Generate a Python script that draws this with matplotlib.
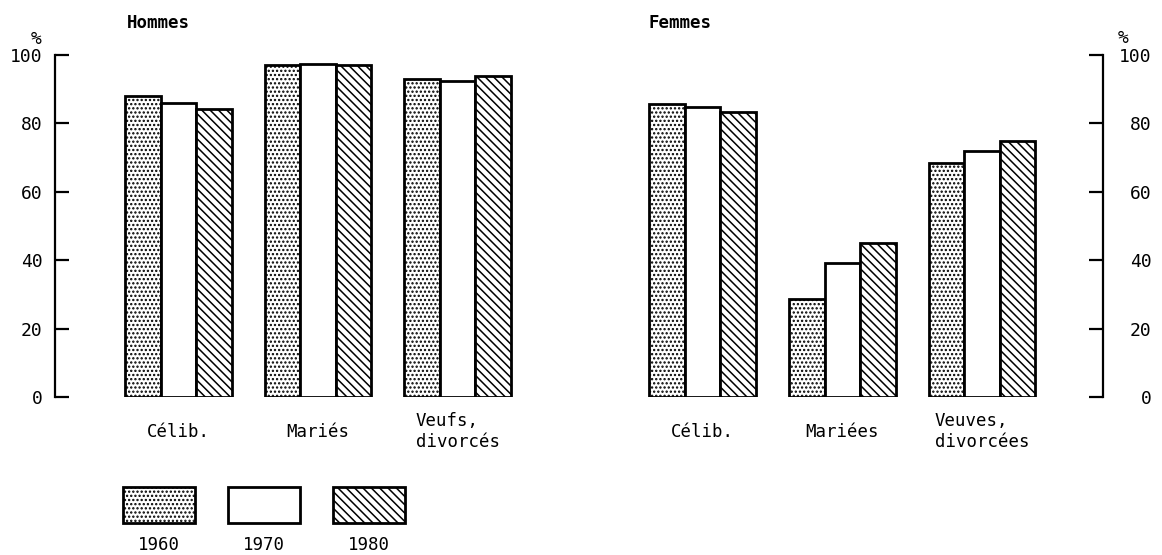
import numpy as np
import matplotlib
matplotlib.use("Agg")
import matplotlib.pyplot as plt

plt.rcParams['font.family'] = ['DejaVu Sans Mono', 'DejaVu Sans']
plt.rcParams['hatch.linewidth'] = 1.1

years = ['1960', '1970', '1980']
hatches = ['....', '', '\\\\\\\\']

hommes_cat = ['Célib.', 'Mariés', 'Veufs,\ndivorcés']
hommes_1960 = [88, 97, 93]
hommes_1970 = [86, 97.5, 92.3]
hommes_1980 = [84.2, 97, 94]

femmes_cat = ['Célib.', 'Mariées', 'Veuves,\ndivorcées']
femmes_1960 = [85.7, 28.7, 68.4]
femmes_1970 = [84.8, 39.2, 71.9]
femmes_1980 = [83.3, 45.0, 74.9]

W, H = 1162, 555
fig = plt.figure(figsize=(W / 100, H / 100), dpi=100)

bot = (H - 397) / H
top = (H - 55) / H

# bar groups
def draw_group(ax, series, cats):
    x = np.arange(len(cats))
    bw = 0.254
    for k, vals in enumerate(series):
        ax.bar(x + (k - 1) * bw, vals, bw, facecolor='white', edgecolor='black',
               linewidth=2.0, hatch=hatches[k], zorder=3)
    ax.set_ylim(0, 100)
    ax.set_yticks([0, 20, 40, 60, 80, 100])
    ax.set_xticks(x, cats)
    ax.tick_params(axis='x', length=0, pad=25, labelsize=12.5)
    for t in ax.get_xticklabels():
        t.set_va('center')
        t.set_multialignment('left')
        t.set_linespacing(1.25)
    for s in ['top', 'bottom']:
        ax.spines[s].set_visible(False)

ax1 = fig.add_axes([55 / W, bot, (540 - 55) / W, top - bot])
draw_group(ax1, [hommes_1960, hommes_1970, hommes_1980], hommes_cat)
ax1.set_xlim(-0.885, 2.59)
ax1.spines['right'].set_visible(False)
ax1.spines['left'].set_linewidth(1.6)
ax1.tick_params(axis='y', direction='in', length=10, width=1.6, pad=9, labelsize=13)
fig.text(36 / W, 1 - 39 / H, '%', ha='center', va='center', fontsize=13)
fig.text(127 / W, 1 - 23 / H, 'Hommes', ha='left', va='center', fontsize=12.5, fontweight='bold')

ax2 = fig.add_axes([630 / W, bot, (1103 - 630) / W, top - bot])
draw_group(ax2, [femmes_1960, femmes_1970, femmes_1980], femmes_cat)
ax2.set_xlim(-0.518, 2.864)
ax2.spines['left'].set_visible(False)
ax2.spines['right'].set_linewidth(1.6)
ax2.yaxis.tick_right()
ax2.tick_params(axis='y', direction='in', length=10, width=1.6, pad=35, labelsize=13)
for t in ax2.get_yticklabels():
    t.set_ha('right')
fig.text(1123 / W, 1 - 38 / H, '%', ha='center', va='center', fontsize=13)
fig.text(648 / W, 1 - 23 / H, 'Femmes', ha='left', va='center', fontsize=12.5, fontweight='bold')

# legend boxes
ax3 = fig.add_axes([123 / W, (H - 523) / H, 282 / W, 36 / H])
for k in range(3):
    ax3.bar(k, 1, 0.687, facecolor='white', edgecolor='black', linewidth=2.0,
            hatch=hatches[k], clip_on=False)
ax3.set_xlim(-0.3435, 2.3435)
ax3.set_ylim(0, 1)
ax3.set_xticks(range(3), years)
ax3.set_yticks([])
ax3.tick_params(axis='x', length=0, pad=16, labelsize=12.5)
for t in ax3.get_xticklabels():
    t.set_va('center')
for s in ax3.spines.values():
    s.set_visible(False)

fig.savefig('out.png', dpi=100)
